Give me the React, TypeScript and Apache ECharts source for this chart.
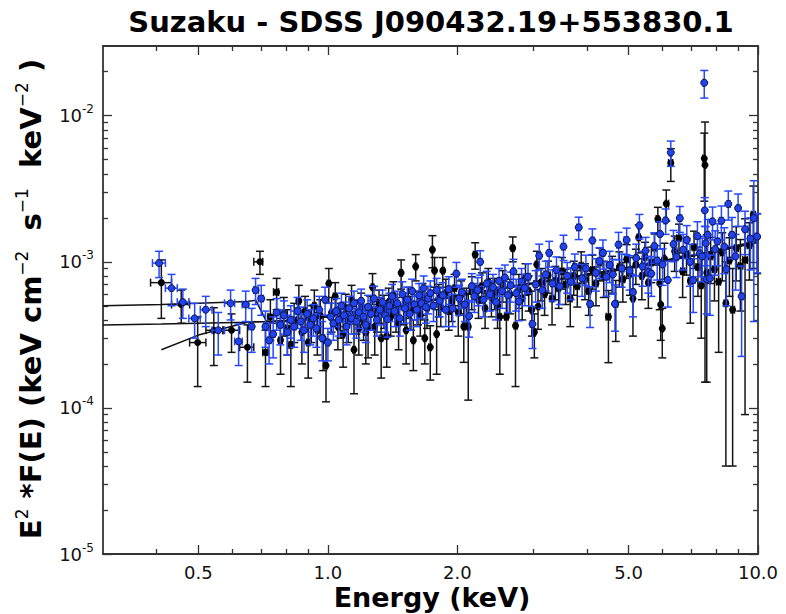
import React, { useEffect, useRef } from "react";
import * as echarts from "echarts";

const TITLE = "Suzaku - SDSS J090432.19+553830.1";
const X_NAME = "Energy (keV)";
const X_MIN = 0.3;
const X_MAX = 10.0;
const Y_MIN = 1e-5;
const Y_MAX = 3e-2;
const X_LABELS = [0.5, 1.0, 2.0, 5.0, 10.0];
const X_MINOR = [0.4, 0.6, 0.7, 0.8, 0.9, 3, 4, 6, 7, 8, 9];
const Y_DECADES = [-5, -4, -3, -2];
const Y_MINOR_MULT = [2, 3, 4, 5, 6, 7, 8, 9];

// Black detector data: energy (keV), E^2 F(E) (units of 1e-4), 1-sigma error (units of 1e-4)
const blackEnergy = [
  0.41, 0.456, 0.498, 0.543, 0.597, 0.65, 0.695, 0.716, 0.735, 0.76, 0.776, 0.79, 0.805, 0.82, 0.835, 0.856,
  0.87, 0.885, 0.9, 0.915, 0.93, 0.945, 0.96, 0.975, 0.99, 1.005, 1.02, 1.04, 1.055, 1.07, 1.085, 1.1, 1.115,
  1.135, 1.15, 1.165, 1.18, 1.195, 1.21, 1.225, 1.24, 1.255, 1.27, 1.285, 1.3, 1.315, 1.33, 1.35, 1.37, 1.385,
  1.4, 1.42, 1.44, 1.46, 1.48, 1.5, 1.52, 1.54, 1.56, 1.58, 1.6, 1.62, 1.64, 1.66, 1.68, 1.7, 1.73, 1.75, 1.77,
  1.79, 1.81, 1.83, 1.85, 1.88, 1.91, 1.94, 1.97, 2.01, 2.04, 2.07, 2.1, 2.12, 2.16, 2.2, 2.24, 2.28, 2.32,
  2.36, 2.4, 2.44, 2.48, 2.51, 2.55, 2.6, 2.65, 2.69, 2.73, 2.78, 2.83, 2.88, 2.93, 2.98, 3.02, 3.06, 3.08,
  3.13, 3.19, 3.25, 3.32, 3.38, 3.44, 3.5, 3.57, 3.66, 3.73, 3.8, 3.88, 3.96, 4.04, 4.12, 4.2, 4.29, 4.38,
  4.49, 4.58, 4.67, 4.76, 4.85, 4.95, 5.04, 5.12, 5.2, 5.28, 5.37, 5.46, 5.56, 5.65, 5.75, 5.85, 5.91, 5.94,
  5.99, 6.06, 6.12, 6.27, 6.4, 6.55, 6.68, 6.82, 6.96, 7.1, 7.25, 7.38, 7.5, 7.53, 7.6, 7.76, 7.92, 8.1,
  8.26, 8.42, 8.58, 8.73, 8.9, 9.1, 9.33, 9.55, 9.75, 9.96,
];
const blackFlux = [
  7.2, 5.1, 2.8, 3.4, 3.4, 2.6, 10.0, 2.4, 4.2, 6.2, 2.9, 4.4, 3.5, 2.7, 4.0, 5.4,
  3.3, 4.6, 2.8, 3.9, 5.0, 3.4, 4.3, 3.0, 1.95, 7.1, 4.5, 5.8, 3.6, 4.1, 3.2, 4.8, 3.9,
  5.5, 2.5, 4.3, 3.5, 4.9, 4.0, 3.3, 3.6, 4.6, 6.7, 3.6, 4.4, 5.1, 3.0, 4.7, 3.1, 5.3,
  4.2, 5.9, 4.5, 3.8, 8.4, 4.9, 3.4, 5.4, 4.6, 2.9, 9.3, 5.0, 4.3, 5.7, 3.0, 4.8, 2.6, 12.1, 8.7,
  3.2, 5.6, 4.9, 8.7, 6.1, 4.6, 5.3, 6.6, 4.5, 5.9, 3.6, 5.2, 3.6, 6.3, 11.2, 5.5, 6.8, 4.8,
  7.3, 5.7, 6.2, 5.0, 4.2, 7.0, 4.2, 6.0, 12.4, 3.65, 6.5, 5.6, 7.8, 6.3, 4.7, 3.3, 9.6, 4.95,
  7.2, 6.0, 8.1, 5.6, 7.4, 6.6, 8.6, 7.0, 5.6, 8.0, 6.8, 9.4, 7.6, 6.3, 8.8, 7.1, 9.9, 7.9,
  4.2, 8.5, 5.15, 9.2, 7.6, 10.4, 8.3, 5.6, 9.6, 14.7, 8.0, 10.8, 7.2, 9.9, 12.5, 19.6, 7.1, 5.1,
  3.5, 10.5, 25.0, 47.5, 11.8, 14.5, 8.6, 11.3, 7.4, 12.6, 9.2, 6.9, 51.0, 46.0, 8.4, 10.9, 8.9, 7.3,
  11.6, 5.2, 10.2, 4.7, 12.4, 9.4, 10.3, 13.0, 21.0, 14.8,
];
const blackErr = [
  3.1, 1.3, 1.4, 1.45, 1.0, 1.1, 1.8, 1.0, 1.3, 1.5, 1.2, 1.3, 1.2, 1.3, 1.2, 1.5,
  1.3, 1.2, 1.2, 1.1, 1.4, 1.1, 1.2, 1.2, 0.85, 1.9, 1.2, 1.4, 1.1, 1.1, 1.3, 1.2, 1.1,
  1.4, 1.25, 1.1, 1.2, 1.2, 1.1, 1.3, 1.4, 1.2, 1.6, 1.3, 1.1, 1.3, 1.4, 1.2, 1.2, 1.3,
  1.1, 1.4, 1.2, 1.3, 1.9, 1.2, 1.4, 1.3, 1.2, 1.1, 1.9, 1.3, 1.2, 1.4, 1.0, 1.3, 1.05, 3.0, 2.0,
  1.5, 1.4, 1.3, 2.0, 1.5, 1.2, 1.4, 1.6, 1.4, 1.5, 1.55, 1.4, 2.47, 1.6, 2.3, 1.4, 1.6, 1.3,
  1.7, 1.5, 1.5, 1.5, 2.5, 1.7, 1.9, 1.6, 2.4, 2.25, 1.7, 1.6, 1.9, 1.7, 1.6, 1.1, 2.2, 1.5,
  1.8, 1.7, 2.0, 1.9, 1.9, 1.8, 2.1, 1.9, 2.0, 2.1, 1.9, 2.3, 2.1, 2.0, 2.3, 2.1, 2.5, 2.2,
  2.16, 2.4, 2.3, 2.5, 2.3, 2.7, 2.4, 2.5, 2.6, 3.2, 2.5, 2.8, 2.4, 2.7, 3.0, 4.0, 2.4, 2.2,
  1.3, 2.9, 6.0, 12.0, 3.2, 3.6, 2.9, 3.2, 3.6, 3.6, 3.4, 3.9, 25.0, 44.5, 6.9, 3.8, 3.5, 4.9,
  4.2, 4.8, 4.4, 4.3, 5.0, 4.8, 9.4, 5.5, 12.0, 6.5,
];

// Blue detector data: energy (keV), E^2 F(E) (units of 1e-4), 1-sigma error (units of 1e-4)
const blueEnergy = [
  0.405, 0.433, 0.46, 0.49, 0.52, 0.556, 0.594, 0.62, 0.644, 0.665, 0.679, 0.7, 0.716, 0.73, 0.746, 0.76,
  0.775, 0.79, 0.805, 0.82, 0.835, 0.85, 0.865, 0.88, 0.895, 0.91, 0.925, 0.94, 0.955, 0.97, 0.985, 1.0,
  1.015, 1.03, 1.045, 1.06, 1.075, 1.09, 1.105, 1.12, 1.135, 1.15, 1.165, 1.18, 1.195, 1.21, 1.225, 1.24,
  1.26, 1.28, 1.3, 1.32, 1.34, 1.36, 1.375, 1.39, 1.41, 1.43, 1.45, 1.47, 1.49, 1.51, 1.53, 1.55, 1.57,
  1.59, 1.61, 1.63, 1.65, 1.67, 1.69, 1.71, 1.73, 1.76, 1.79, 1.82, 1.85, 1.88, 1.91, 1.95, 1.99, 2.02,
  2.05, 2.08, 2.13, 2.16, 2.19, 2.23, 2.26, 2.3, 2.34, 2.38, 2.42, 2.46, 2.5, 2.54, 2.58, 2.62, 2.66, 2.7,
  2.74, 2.78, 2.82, 2.87, 2.92, 2.99, 3.04, 3.1, 3.15, 3.21, 3.27, 3.33, 3.4, 3.46, 3.53, 3.6, 3.67, 3.75,
  3.83, 3.9, 3.98, 4.07, 4.12, 4.2, 4.28, 4.36, 4.44, 4.52, 4.6, 4.65, 4.74, 4.82, 4.95, 5.03, 5.12, 5.21,
  5.3, 5.39, 5.48, 5.56, 5.65, 5.74, 5.83, 5.92, 6.0, 6.1, 6.17, 6.27, 6.36, 6.46, 6.58, 6.7, 6.83, 6.95,
  7.07, 7.23, 7.33, 7.42, 7.5, 7.52, 7.56, 7.6, 7.64, 7.73, 7.84, 7.95, 8.05, 8.22, 8.35, 8.44, 8.53, 8.7,
  8.87, 8.99, 9.16, 9.33, 9.6, 9.78, 9.95,
];
const blueFlux = [
  9.8, 6.6, 5.3, 4.1, 4.7, 3.4, 5.2, 2.85, 5.1, 3.6, 6.4, 5.6, 3.6, 2.9, 3.2, 4.5,
  3.7, 4.3, 3.3, 4.0, 3.6, 4.6, 3.9, 3.4, 4.4, 3.7, 4.1, 3.5, 4.7, 3.0, 5.5, 2.8,
  4.2, 3.8, 4.6, 4.0, 5.0, 4.3, 3.6, 4.8, 4.1, 5.2, 3.9, 4.5, 5.4, 4.2, 3.7, 4.9,
  4.4, 5.6, 4.0, 4.7, 5.3, 4.3, 4.05, 5.0, 5.8, 4.6, 5.2, 4.1, 6.0, 4.8, 5.5, 4.4, 6.3,
  5.1, 4.7, 5.9, 5.2, 6.6, 4.9, 5.6, 6.1, 5.0, 6.4, 5.4, 5.9, 4.7, 6.5, 4.8, 8.3, 5.6,
  6.2, 5.1, 4.25, 6.8, 5.8, 6.4, 10.0, 5.5, 7.1, 6.0, 6.7, 5.3, 7.4, 6.3, 7.8, 5.9, 6.9, 8.6,
  6.1, 5.35, 7.3, 6.6, 7.9, 3.75, 7.0, 11.0, 6.4, 8.2, 11.5, 7.1, 8.8, 6.8, 12.7, 8.0, 7.3, 9.2,
  17.2, 7.7, 9.0, 5.15, 14.0, 8.4, 10.1, 11.5, 7.9, 9.5, 8.2, 5.15, 13.1, 9.0, 14.1, 8.7, 6.2, 10.6,
  17.7, 9.3, 11.9, 8.5, 8.3, 12.8, 10.2, 15.5, 9.6, 19.2, 7.5, 56.0, 13.2, 10.8, 19.9, 12.1, 14.1, 10.0,
  7.5, 15.0, 11.4, 10.9, 168.0, 22.5, 13.4, 7.6, 15.3, 7.7, 18.9, 12.2, 13.8, 19.1, 12.7, 8.9, 24.9, 15.3,
  10.9, 23.3, 5.8, 16.7, 14.4, 19.9, 14.9,
];
const blueErr = [
  2.0, 1.6, 1.2, 1.1, 1.1, 1.1, 1.2, 0.9, 1.2, 1.2, 1.3, 1.3, 1.0, 0.9, 1.0, 1.1,
  1.0, 1.1, 1.0, 1.0, 1.0, 1.1, 1.0, 1.0, 1.1, 1.0, 1.0, 0.9, 1.1, 0.9, 1.2, 0.7,
  1.0, 0.9, 1.0, 0.9, 1.1, 1.0, 0.9, 1.0, 0.9, 1.1, 0.9, 1.0, 1.1, 0.9, 0.9, 1.0,
  1.0, 1.2, 0.9, 1.0, 1.1, 1.0, 1.0, 1.1, 1.2, 1.0, 1.1, 1.0, 1.3, 1.0, 1.2, 1.0, 1.3,
  1.1, 1.1, 1.2, 1.1, 1.4, 1.1, 1.2, 1.3, 1.1, 1.3, 1.2, 1.3, 1.1, 1.4, 1.2, 1.6, 1.3,
  1.4, 1.2, 1.2, 1.5, 1.3, 1.4, 1.9, 1.3, 1.5, 1.4, 1.5, 1.3, 1.6, 1.5, 1.7, 1.4, 1.6, 1.8,
  1.5, 1.4, 1.7, 1.6, 1.8, 1.2, 1.7, 2.2, 1.6, 1.9, 2.3, 1.7, 2.0, 1.7, 2.5, 1.9, 1.8, 2.1,
  3.0, 1.9, 2.1, 1.6, 2.8, 2.1, 2.4, 2.6, 2.1, 2.3, 2.2, 1.8, 2.8, 2.3, 2.9, 2.3, 2.0, 2.6,
  3.4, 2.5, 2.8, 2.4, 2.5, 3.0, 2.7, 3.3, 2.7, 3.8, 2.6, 11.0, 3.2, 3.0, 4.0, 3.3, 3.6, 3.2,
  3.0, 3.8, 3.5, 3.6, 36.0, 5.0, 4.0, 3.2, 4.2, 3.4, 4.8, 4.1, 4.4, 5.0, 4.4, 3.9, 5.6, 4.8,
  4.5, 5.8, 3.55, 5.5, 5.6, 16.0, 6.5,
];

// Folded model curves (units of 1e-4)
const modelEnergy = [0.3, 0.41, 0.5, 0.65, 0.68, 0.72, 0.75, 0.8, 1.0, 1.5, 2.0, 3.0, 4.0, 5.0, 6.0, 7.0, 8.0, 9.0, 10.0];
const modelA = [5.0, 5.1, 5.2, 5.35, 5.45, 3.9, 3.8, 3.9, 4.3, 5.1, 5.9, 7.2, 8.2, 9.2, 10.2, 11.1, 12.0, 13.0, 14.0];
const modelB = [3.7, 3.75, 3.8, 3.86, 3.88, 3.9, 3.92, 3.97, 4.2, 5.0, 5.8, 7.1, 8.1, 9.0, 10.0, 10.9, 11.8, 12.7, 13.6];
const modelC = [null, 2.5, 3.15, 3.86, 3.88, 3.9, 3.92, 3.97, 4.2, 5.0, 5.8, 7.1, 8.1, 9.0, 10.0, 10.9, 11.8, 12.7, 13.6];

const UNIT = 1e-4;
const L = (v: number) => Math.log10(v);
const FONT = "DejaVu Sans";

function buildErrRows(E: number[], F: number[], Er: number[]) {
  const n = E.length;
  return E.map((e, i) => {
    const lo = i > 0 ? (E[i - 1] + e) / 2 : e - (E[i + 1] - e) / 2;
    const hi = i < n - 1 ? (E[i + 1] + e) / 2 : e + (e - E[i - 1]) / 2;
    const f = F[i] * UNIT;
    const err = Er[i] * UNIT;
    const fl = f - err;
    const clamped = fl <= Y_MIN ? 1 : 0;
    return [L(e), L(f), L(lo), L(Math.min(hi, X_MAX)), L(clamped ? Y_MIN : fl), L(f + err), clamped];
  });
}

function buildPoints(E: number[], F: number[]) {
  return E.map((e, i) => [L(e), L(F[i] * UNIT)]);
}

function buildModel(E: number[], M: (number | null)[]) {
  const out: number[][] = [];
  E.forEach((e, i) => {
    const m = M[i];
    if (m !== null && m !== undefined) out.push([L(e), L(m * UNIT)]);
  });
  return out;
}

function makeRenderer(color: string) {
  return (params: any, api: any) => {
    const x = api.value(0);
    const y = api.value(1);
    const xl = api.value(2);
    const xh = api.value(3);
    const yl = api.value(4);
    const yh = api.value(5);
    const clamped = api.value(6);
    const c = api.coord([x, y]);
    const pxl = api.coord([xl, y])[0];
    const pxh = api.coord([xh, y])[0];
    const pyl = api.coord([x, yl])[1];
    const pyh = api.coord([x, yh])[1];
    const cap = 4;
    const style = { stroke: color, lineWidth: 1.5 };
    const children: any[] = [
      { type: "line", shape: { x1: c[0], y1: pyl, x2: c[0], y2: pyh }, style },
      { type: "line", shape: { x1: c[0] - cap, y1: pyh, x2: c[0] + cap, y2: pyh }, style },
      { type: "line", shape: { x1: pxl, y1: c[1], x2: pxh, y2: c[1] }, style },
      { type: "line", shape: { x1: pxl, y1: c[1] - cap, x2: pxl, y2: c[1] + cap }, style },
      { type: "line", shape: { x1: pxh, y1: c[1] - cap, x2: pxh, y2: c[1] + cap }, style },
    ];
    if (!clamped) {
      children.push({ type: "line", shape: { x1: c[0] - cap, y1: pyl, x2: c[0] + cap, y2: pyl }, style });
    }
    return { type: "group", children };
  };
}

export default function App() {
  const ref = useRef<HTMLDivElement>(null);
  useEffect(() => {
    if (!ref.current) return;
    const chart = echarts.init(ref.current, undefined, { renderer: "svg" });
    const xMin = L(X_MIN);
    const xMax = L(X_MAX);
    const yMin = L(Y_MIN);
    const yMax = L(Y_MAX);
    const xMajor = X_LABELS.map(L);
    const xMinor = X_MINOR.map(L);
    const yMajor = Y_DECADES.slice();
    const yMinor: number[] = [];
    Y_DECADES.forEach((d) => Y_MINOR_MULT.forEach((m) => {
      const v = L(m * Math.pow(10, d));
      if (v < yMax - 1e-6) yMinor.push(v);
    }));
    const frame = { color: "#333", width: 1.8 };
    const tickStyle = { color: "#333", width: 1.3 };
    const xAx = (position: string, major: boolean, labels: boolean) => ({
      type: "value",
      min: xMin,
      max: xMax,
      position,
      axisLine: { show: major, onZero: false, lineStyle: frame },
      axisTick: { show: true, inside: true, length: major ? 9 : 5, lineStyle: tickStyle, customValues: major ? xMajor : xMinor },
      axisLabel: labels
        ? { show: true, customValues: xMajor, formatter: (v: number) => Math.pow(10, v).toFixed(1), fontSize: 18, lineHeight: 18, color: "#111", fontFamily: FONT, margin: 9 }
        : { show: false },
      splitLine: { show: false },
    });
    const yAx = (position: string, major: boolean, labels: boolean) => ({
      type: "value",
      min: yMin,
      max: yMax,
      position,
      axisLine: { show: major, onZero: false, lineStyle: frame },
      axisTick: { show: true, inside: true, length: major ? 9 : 5, lineStyle: tickStyle, customValues: major ? yMajor : yMinor },
      axisLabel: labels
        ? {
            show: true,
            customValues: yMajor,
            formatter: (v: number) => `{b|10}{s|${Math.round(v)}}`,
            margin: 9,
            rich: {
              b: { fontSize: 18, lineHeight: 25, fontFamily: FONT, color: "#111" },
              s: { fontSize: 12, lineHeight: 12, fontFamily: FONT, color: "#111", verticalAlign: "top" },
            },
          }
        : { show: false },
      splitLine: { show: false },
    });

    chart.setOption({
      animation: false,
      backgroundColor: "#fff",
      grid: { left: 103, right: 28, top: 46, bottom: 60, containLabel: false },
      xAxis: [xAx("bottom", true, true), xAx("bottom", false, false), xAx("top", true, false), xAx("top", false, false)],
      yAxis: [yAx("left", true, true), yAx("left", false, false), yAx("right", true, false), yAx("right", false, false)],
      graphic: [
        {
          type: "text",
          x: 431,
          y: 22,
          style: { text: TITLE, fill: "#000", font: `bold 29px ${FONT}`, lineHeight: 29, align: "center", verticalAlign: "middle", textAlign: "center", textVerticalAlign: "middle" },
        },
        {
          type: "text",
          x: 432,
          y: 597,
          style: { text: X_NAME, fill: "#000", font: `bold 27px ${FONT}`, lineHeight: 27, align: "center", verticalAlign: "middle", textAlign: "center", textVerticalAlign: "middle" },
        },
        {
          type: "text",
          x: 31,
          y: 299,
          rotation: Math.PI / 2,
          style: {
            text: "{b|E}{s|2}{b| *F(E) (keV cm}{s|\u22122}{b|  s}{s|\u22121}{b|  keV}{s|\u22122}{b| )}",
            align: "center",
            verticalAlign: "middle",
            textAlign: "center",
            textVerticalAlign: "middle",
            rich: {
              b: { fontSize: 29, fontWeight: "bold", fontFamily: FONT, fill: "#000", lineHeight: 35 },
              s: { fontSize: 17, fontFamily: FONT, fill: "#000", lineHeight: 17, verticalAlign: "top" },
            },
          },
        },
      ],
      series: [
        { type: "line", data: buildModel(modelEnergy, modelA), showSymbol: false, symbol: "none", lineStyle: { color: "#111", width: 1.5 }, z: 1, silent: true },
        { type: "line", data: buildModel(modelEnergy, modelB), showSymbol: false, symbol: "none", lineStyle: { color: "#111", width: 1.5 }, z: 1, silent: true },
        { type: "line", data: buildModel(modelEnergy, modelC), showSymbol: false, symbol: "none", lineStyle: { color: "#111", width: 1.5 }, z: 1, silent: true },
        { type: "custom", renderItem: makeRenderer("#151515"), data: buildErrRows(blackEnergy, blackFlux, blackErr), encode: { x: 0, y: 1 }, z: 2, silent: true },
        { type: "scatter", data: buildPoints(blackEnergy, blackFlux), symbol: "circle", symbolSize: 7, itemStyle: { color: "#000", opacity: 1 }, z: 3, silent: true },
        { type: "custom", renderItem: makeRenderer("#2448ff"), data: buildErrRows(blueEnergy, blueFlux, blueErr), encode: { x: 0, y: 1 }, z: 4, silent: true },
        { type: "scatter", data: buildPoints(blueEnergy, blueFlux), symbol: "circle", symbolSize: 7, itemStyle: { color: "#1f43f2", borderColor: "#141436", borderWidth: 1, opacity: 1 }, z: 5, silent: true },
      ],
    });
    return () => chart.dispose();
  }, []);
  return <div ref={ref} style={{ position: "fixed", left: 0, top: 0, width: 786, height: 614, background: "#fff" }} />;
}
